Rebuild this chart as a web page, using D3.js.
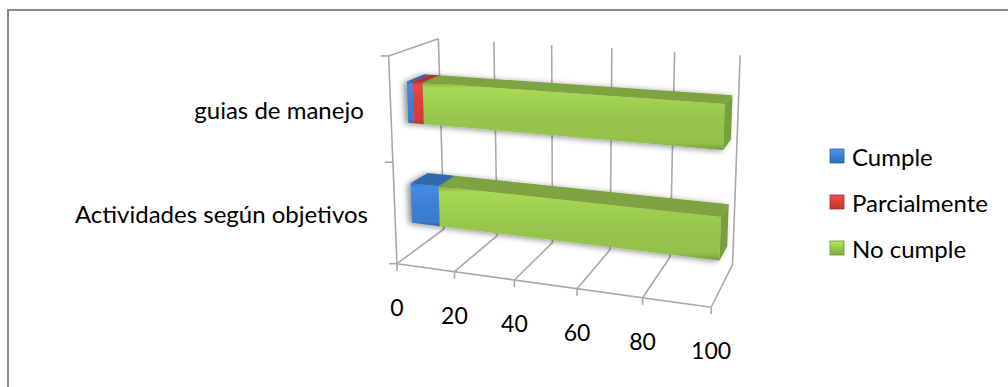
<!DOCTYPE html>
<html><head><meta charset="utf-8">
<script src="https://cdn.jsdelivr.net/npm/d3@7/dist/d3.min.js"></script>
<style>
body{margin:0;background:#fff}
svg{display:block}
text{font-family:Lato,"Liberation Sans",sans-serif;fill:#000}
</style>
</head><body>
<svg id="chart" width="1008" height="387"></svg>
<script>
// ---------------- data ----------------
const categories = ["Actividades según objetivos", "guias de manejo"];
const seriesNames = ["Cumple", "Parcialmente", "No cumple"];
const cumple = [10, 2];
const parcialmente = [0, 3.5];
const noCumple = [90, 94.5];
const xTicks = [0, 20, 40, 60, 80, 100];
const xTickLabels = ["0", "20", "40", "60", "80", "100"];

// ---------------- styles ----------------
const seriesColors = ["#3B7BCB", "#D63C39", "#93C04A"];
const gridColor = "#A9A9A9";

// ---------------- camera (3-D frame calibration) ----------------
// world: X = value 0..100, Y = height 0..1 (floor..top), Z = depth 0..1 (front..back)
const frameAnchors = [
  [0,1,1,439,40],[20,1,1,494,43],[40,1,1,552,45],[60,1,1,611,48],[80,1,1,674,52],[100,1,1,741,54.5],
  [0,0,0,398,263],[20,0,0,455,273],[40,0,0,515,282],[60,0,0,577,290],[80,0,0,642,298],[100,0,0,710,305],
  [0,0,1,442,228],[20,0,1,497,235],[40,0,1,553,242],[80,0,1,672,255],[100,0,1,732,267],
  [0,1,0,388,54],[0,0.5,0,393,162]
];
const CU = 560, CV = 170, SC = 200;
function solve(A, b) {
  const n = b.length;
  const M = A.map((r, i) => r.concat([b[i]]));
  for (let c = 0; c < n; c++) {
    let p = c;
    for (let r = c + 1; r < n; r++) if (Math.abs(M[r][c]) > Math.abs(M[p][c])) p = r;
    [M[c], M[p]] = [M[p], M[c]];
    for (let r = 0; r < n; r++) {
      if (r === c) continue;
      const f = M[r][c] / M[c][c];
      for (let k = c; k <= n; k++) M[r][k] -= f * M[c][k];
    }
  }
  return M.map((r, i) => r[n] / r[i]);
}
const P = (function () {
  const rows = [], rhs = [];
  frameAnchors.forEach(([v, Y, Z, u, w]) => {
    const X = v / 100, uu = (u - CU) / SC, vv = (w - CV) / SC;
    rows.push([X, Y, Z, 1, 0, 0, 0, 0, -uu * X, -uu * Y, -uu * Z]); rhs.push(uu);
    rows.push([0, 0, 0, 0, X, Y, Z, 1, -vv * X, -vv * Y, -vv * Z]); rhs.push(vv);
  });
  const AtA = Array.from({length: 11}, () => new Array(11).fill(0));
  const Atb = new Array(11).fill(0);
  rows.forEach((r, i) => {
    for (let a = 0; a < 11; a++) {
      Atb[a] += r[a] * rhs[i];
      for (let c = 0; c < 11; c++) AtA[a][c] += r[a] * r[c];
    }
  });
  return solve(AtA, Atb);
})();
function project(X, Y, Z) {
  const w = P[8] * X + P[9] * Y + P[10] * Z + 1;
  const u = (P[0] * X + P[1] * Y + P[2] * Z + P[3]) / w;
  const v = (P[4] * X + P[5] * Y + P[6] * Z + P[7]) / w;
  return [u * SC + CU, v * SC + CV];
}

// ---------------- scales ----------------
const x = d3.scaleLinear().domain([0, 100]).range([0, 1]);
const y = d3.scaleBand().domain(categories).range([0, 1]).paddingInner(0.6).paddingOuter(0.3);
const yEdge = d3.scaleLinear().domain([0, categories.length]).range([0, 1]);
const barZ = [0.32, 0.68];

const svg = d3.select("#chart");
const defs = svg.append("defs");

// frame border (top + left visible)
svg.append("path").attr("d", "M8,1000V10H1100").attr("fill", "none")
  .attr("stroke", "#8A8A8A").attr("stroke-width", 2);

const line = d3.line();
const P3 = (a) => project(a[0], a[1], a[2]);
const grid = svg.append("g").attr("fill", "none").attr("stroke", gridColor).attr("stroke-width", 1.6);

// back wall verticals and floor diagonals
xTicks.forEach(t => {
  const X = x(t);
  grid.append("path").attr("d", line([project(X, 0, 1), project(X, 1, 1)]));
  grid.append("path").attr("d", line([project(X, 0, 0), project(X, 0, 1)]));
});
// left wall top edge
grid.append("path").attr("d", line([project(0, 1, 0), project(0, 1, 1)]));
// axes
grid.append("path").attr("d", line([project(0, 0, 0), project(0, 1, 0)]));
grid.append("path").attr("d", line([project(0, 0, 0), project(1, 0, 0)]));
// value ticks
xTicks.forEach(t => {
  const p = project(x(t), 0, 0);
  grid.append("path").attr("d", line([p, [p[0], p[1] + 7]]));
});
// category ticks
d3.range(categories.length + 1).forEach(i => {
  const p = project(0, yEdge(i), 0);
  grid.append("path").attr("d", line([[p[0] - 8, p[1]], p]));
});

// tick labels
svg.append("g").selectAll("text").data(xTicks).join("text")
  .attr("x", t => project(x(t), 0, 0)[0])
  .attr("y", t => project(x(t), 0, 0)[1] + 43)
  .attr("text-anchor", "middle").attr("dominant-baseline", "central")
  .attr("font-size", 23)
  .text((t, i) => xTickLabels[i]);

// category labels
svg.append("g").selectAll("text").data(categories).join("text")
  .attr("x", c => project(0, y(c) + y.bandwidth() / 2, 0)[0] - 27)
  .attr("y", c => project(0, y(c) + y.bandwidth() / 2, 0)[1])
  .attr("text-anchor", "end").attr("dominant-baseline", "central")
  .attr("font-size", 24)
  .text(c => c);

// shadow filter
const f = defs.append("filter").attr("id", "sh").attr("x", "-10%").attr("y", "-40%").attr("width", "120%").attr("height", "180%");
f.append("feGaussianBlur").attr("in", "SourceAlpha").attr("stdDeviation", 3).attr("result", "b");
f.append("feOffset").attr("in", "b").attr("dx", -3).attr("dy", 1).attr("result", "o");
f.append("feComponentTransfer").attr("in", "o").attr("result", "s")
  .append("feFuncA").attr("type", "linear").attr("slope", 0.45);
const fm = f.append("feMerge");
fm.append("feMergeNode").attr("in", "s");
fm.append("feMergeNode").attr("in", "SourceGraphic");

// gradients
seriesColors.forEach((col, i) => {
  const c = d3.color(col);
  const g = defs.append("linearGradient").attr("id", "gf" + i).attr("x1", 0).attr("y1", 0).attr("x2", 0).attr("y2", 1);
  g.append("stop").attr("offset", 0).attr("stop-color", c.darker(0.3));
  g.append("stop").attr("offset", 0.08).attr("stop-color", c.brighter(0.35));
  g.append("stop").attr("offset", 0.5).attr("stop-color", c.brighter(0.1));
  g.append("stop").attr("offset", 0.9).attr("stop-color", c);
  g.append("stop").attr("offset", 1).attr("stop-color", c.darker(0.6));
  const k = defs.append("linearGradient").attr("id", "gk" + i).attr("x1", 0).attr("y1", 0).attr("x2", 0).attr("y2", 1);
  k.append("stop").attr("offset", 0).attr("stop-color", c.brighter(0.6));
  k.append("stop").attr("offset", 0.5).attr("stop-color", c.brighter(0.1));
  k.append("stop").attr("offset", 1).attr("stop-color", c.darker(0.3));
});

// bars
const table = categories.map((c, i) => ({cat: c, Cumple: cumple[i], Parcialmente: parcialmente[i], "No cumple": noCumple[i]}));
const stacked = d3.stack().keys(seriesNames)(table);
const poly = pts => "M" + pts.map(p => P3(p).join(",")).join("L") + "Z";
const barsG = svg.append("g");
categories.forEach((cat, ci) => {
  const g = barsG.append("g").attr("filter", "url(#sh)");
  const y0 = y(cat), y1 = y0 + y.bandwidth();
  const [zf, zb] = barZ;
  stacked.forEach((s, si) => {
    const d = s[ci];
    if (d[1] - d[0] <= 0) return;
    const x0 = x(d[0]), x1 = x(d[1]);
    const c = d3.color(seriesColors[si]);
    g.append("path").attr("d", poly([[x0, y1, zf], [x1, y1, zf], [x1, y1, zb], [x0, y1, zb]]))
      .attr("fill", c.darker(0.45));
    g.append("path").attr("d", poly([[x1, y0, zf], [x1, y1, zf], [x1, y1, zb], [x1, y0, zb]]))
      .attr("fill", c.darker(0.55));
    g.append("path").attr("d", poly([[x0, y0, zf], [x1, y0, zf], [x1, y1, zf], [x0, y1, zf]]))
      .attr("fill", `url(#gf${si})`);
  });
});

// legend
const leg = svg.append("g").attr("transform", "translate(830,156)");
const li = leg.selectAll("g").data(seriesNames).join("g").attr("transform", (d, i) => `translate(0,${i * 46})`);
li.append("rect").attr("x", 0).attr("y", -7).attr("width", 14).attr("height", 14)
  .attr("fill", (d, i) => `url(#gk${i})`).attr("stroke", (d, i) => d3.color(seriesColors[i]).darker(0.8)).attr("stroke-width", 0.8);
li.append("text").attr("x", 22).attr("y", 0).attr("dominant-baseline", "central").attr("font-size", 24).text(d => d);
</script>
</body></html>
